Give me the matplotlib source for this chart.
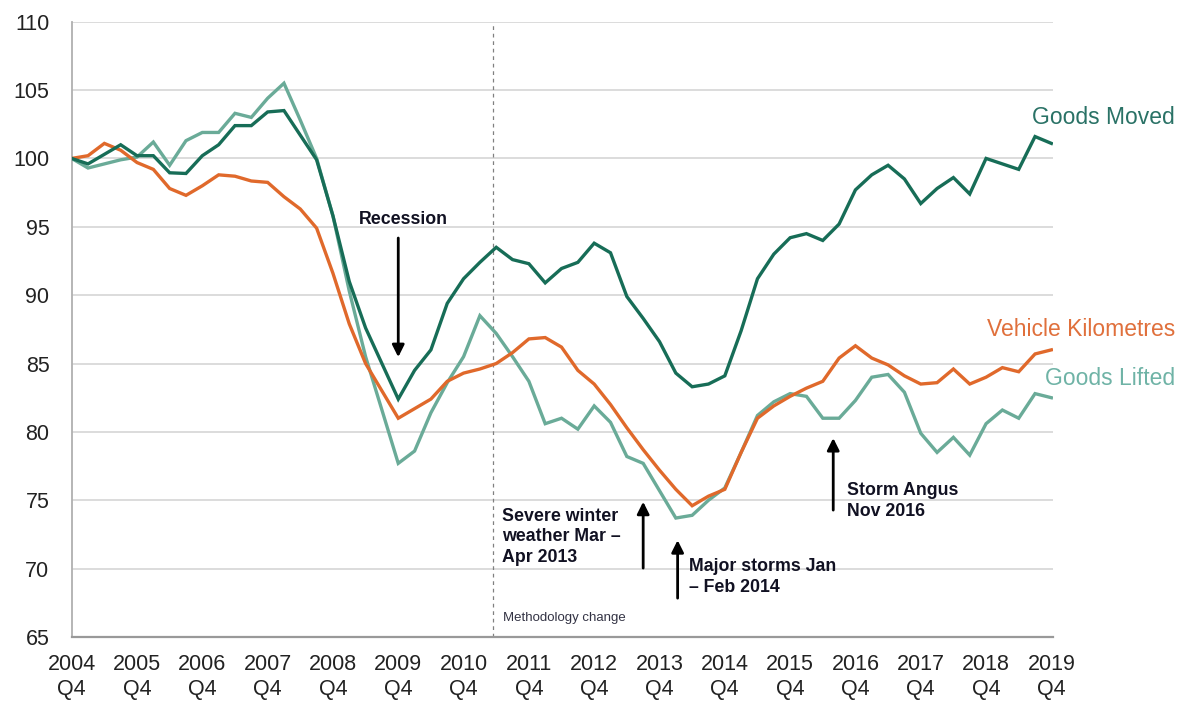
import matplotlib
matplotlib.use("Agg")
import matplotlib.pyplot as plt

plt.rcParams['font.family'] = ['Liberation Sans', 'DejaVu Sans']

# ---- data ----
years = list(range(2004, 2020))
tick_labels = [f"{y}\nQ4" for y in years]

goods_moved = [100.0, 99.6, 100.3, 101.0, 100.2, 100.2, 98.95, 98.9, 100.2, 101.0,
               102.4, 102.4, 103.4, 103.5, 101.7, 99.9, 95.8, 91.0, 87.6, 85.0,
               82.4, 84.5, 86.0, 89.4, 91.2, 92.4, 93.5, 92.6, 92.3, 90.9,
               91.95, 92.4, 93.8, 93.1, 89.9, 88.3, 86.6, 84.3, 83.3, 83.5,
               84.1, 87.4, 91.2, 93.0, 94.2, 94.5, 94.0, 95.2, 97.7, 98.8,
               99.5, 98.5, 96.7, 97.8, 98.6, 97.4, 100.0, 99.6, 99.2, 101.6,
               101.1]

vehicle_km = [100.0, 100.2, 101.1, 100.6, 99.7, 99.2, 97.8, 97.3, 98.0, 98.8,
              98.7, 98.35, 98.25, 97.2, 96.3, 94.9, 91.6, 87.9, 85.0, 83.0,
              81.0, 81.7, 82.4, 83.7, 84.3, 84.6, 85.0, 85.8, 86.8, 86.9,
              86.2, 84.5, 83.5, 82.0, 80.3, 78.7, 77.2, 75.8, 74.6, 75.3,
              75.8, 78.5, 81.0, 81.9, 82.6, 83.2, 83.7, 85.4, 86.3, 85.4,
              84.9, 84.1, 83.5, 83.6, 84.6, 83.5, 84.0, 84.7, 84.4, 85.7,
              86.0]

goods_lifted = [100.0, 99.3, 99.6, 99.9, 100.1, 101.2, 99.5, 101.3, 101.9, 101.9,
                103.3, 103.0, 104.4, 105.5, 102.8, 100.0, 95.8, 90.3, 85.5, 81.6,
                77.7, 78.6, 81.4, 83.6, 85.5, 88.5, 87.2, 85.5, 83.7, 80.6,
                81.0, 80.2, 81.9, 80.7, 78.2, 77.7, 75.7, 73.7, 73.9, 75.0,
                75.9, 78.5, 81.2, 82.2, 82.8, 82.6, 81.0, 81.0, 82.3, 84.0,
                84.2, 82.9, 79.9, 78.5, 79.6, 78.3, 80.6, 81.6, 81.0, 82.8,
                82.5]

quarters = list(range(len(goods_moved)))

C_MOVED = '#176d57'
C_LIFTED = '#6aab98'
C_VKM = '#e0692b'

fig = plt.figure(figsize=(11.84, 7.04), dpi=100)
ax = fig.add_axes([71.7 / 1184, 1 - 637 / 704, (1053 - 71.7) / 1184, (637 - 21.7) / 704])

ax.plot(quarters, goods_lifted, color=C_LIFTED, lw=2.4, solid_joinstyle='miter', zorder=3)
ax.plot(quarters, vehicle_km, color=C_VKM, lw=2.4, solid_joinstyle='miter', zorder=4)
ax.plot(quarters, goods_moved, color=C_MOVED, lw=2.4, solid_joinstyle='miter', zorder=5)

ax.set_xlim(0, 60.1)
ax.set_ylim(65, 110)
ax.set_yticks(range(65, 111, 5))
ax.set_xticks(range(0, 61, 4))
ax.set_xticklabels(tick_labels, linespacing=1.3)
ax.yaxis.grid(True, color='#d9d9d9', lw=1.3)
ax.set_axisbelow(True)
ax.tick_params(axis='both', length=0, labelsize=15.5, colors='#222222')
ax.tick_params(axis='y', pad=16)
ax.tick_params(axis='x', pad=12)
for s in ['top', 'right']:
    ax.spines[s].set_visible(False)
ax.spines['left'].set_color('#b0b0b0')
ax.spines['bottom'].set_color('#999999')
ax.spines['left'].set_linewidth(1.3)
ax.spines['bottom'].set_linewidth(1.6)

# methodology change line
ax.axvline(25.8, color='#808080', lw=0.9, ls=(0, (3, 3)), zorder=2)
ax.text(26.39, 66.38, 'Methodology change', fontsize=9.5, color='#333344', va='center', ha='left')

arrow_kw = dict(arrowstyle='-|>', color='black', lw=2, mutation_scale=18, shrinkA=0, shrinkB=0)
txt_kw = dict(fontsize=12.8, fontweight='bold', color='#111122')

# Recession
ax.text(20.29, 95.5, 'Recession', ha='center', va='center', **txt_kw)
ax.annotate('', xy=(20.0, 85.47), xytext=(20.0, 94.18), arrowprops=arrow_kw)

# Severe winter
ax.text(26.33, 72.33, 'Severe winter\nweather Mar \u2013\nApr 2013', ha='left', va='center',
        linespacing=1.25, **txt_kw)
ax.annotate('', xy=(35.0, 74.89), xytext=(35.0, 70.04), arrowprops=arrow_kw)

# Major storms
ax.text(37.8, 69.38, 'Major storms Jan\n\u2013 Feb 2014', ha='left', va='center',
        linespacing=1.25, **txt_kw)
ax.annotate('', xy=(37.11, 72.08), xytext=(37.11, 67.84), arrowprops=arrow_kw)

# Storm Angus
ax.text(47.46, 74.95, 'Storm Angus\nNov 2016', ha='left', va='center',
        linespacing=1.25, **txt_kw)
ax.annotate('', xy=(46.64, 79.55), xytext=(46.64, 74.28), arrowprops=arrow_kw)

# Series labels
fig.text(1175 / 1184, 1 - 117 / 704, 'Goods Moved', ha='right', va='center', fontsize=16.5, color='#2a7266')
fig.text(1175 / 1184, 1 - 330 / 704, 'Vehicle Kilometres', ha='right', va='center', fontsize=16.5, color='#e0703c')
fig.text(1175 / 1184, 1 - 378 / 704, 'Goods Lifted', ha='right', va='center', fontsize=16.5, color='#6fb3a6')

fig.savefig('out.png', dpi=100)
